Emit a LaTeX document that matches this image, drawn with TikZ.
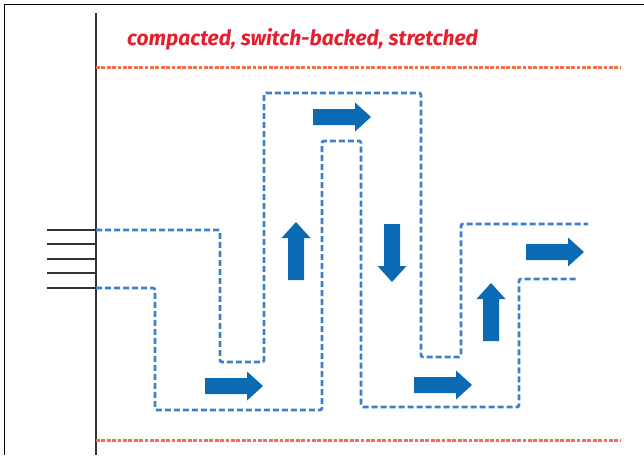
\documentclass[tikz,border=0pt]{standalone}
\usepackage{fontspec}
\newfontfamily\labelfont{Fira Sans}
\definecolor{wallgray}{HTML}{333333}
\definecolor{titlered}{HTML}{E5202E}
\definecolor{limitred}{HTML}{F2704E}
\definecolor{pathblue}{HTML}{3D7FCB}
\definecolor{arrowblue}{HTML}{0A6AB4}
\tikzset{
  wall/.style={draw=wallgray, line width=2.4pt},
  lane/.style={draw=wallgray, line width=2.2pt},
  limit/.style={draw=limitred, line width=3pt, dash pattern=on 3.8pt off 1.6pt},
  route/.style={draw=pathblue, line width=2.7pt, dash pattern=on 6pt off 3pt, rounded corners=2pt},
  flowarrow/.pic={\fill[arrowblue] (0,-8) -- (42,-8) -- (42,-14.5) -- (58,0) -- (42,14.5) -- (42,8) -- (0,8) -- cycle;}
}
\begin{document}
\begin{tikzpicture}[x=1pt, y=-1pt]
\useasboundingbox (0,0) rectangle (644,455);
% frame
\draw[black, line width=1.8pt] (4.5,455) -- (4.5,4.5) -- (644,4.5);
% title
\node[anchor=base west, inner sep=0, text=titlered, font=\labelfont\bfseries\itshape\fontsize{21}{23}\selectfont] (title) at (127,45) {compacted, switch-backed, stretched};
% wall and lanes
\coordinate (walltop) at (96,13);
\coordinate (wallbot) at (96,455);
\draw[wall] (walltop) -- (wallbot);
\foreach \y/\w [count=\i] in {230/2.2, 244/2.8, 259/2.4, 273/2.4, 288/2.3}{
  \coordinate (lane\i) at (96,\y);
  \draw[lane, line width=\w pt] (47,\y) -- (lane\i);
}
% limit lines
\coordinate (limtopL) at (96,67);
\coordinate (limtopR) at (620,67);
\coordinate (limbotL) at (96,440);
\coordinate (limbotR) at (620,440);
\draw[limit] (limtopL) -- (limtopR);
\draw[limit] (limbotL) -- (limbotR);
% outer route
\coordinate (outEnd) at (588,224);
\draw[route] (lane1) -- (220,230) -- (220,362) -- (264,362) -- (264,93) -- (421,93) -- (421,357) -- (461,357) -- (461,224) -- (outEnd);
% inner route
\coordinate (inEnd) at (578,279);
\draw[route] (lane5) -- (155,288) -- (155,410) -- (322,410) -- (322,141) -- (361,141) -- (361,407) -- (519,407) -- (519,279) -- (inEnd);
% flow arrows
\pic (a1) at (205,386) {flowarrow};
\pic[rotate=90] (a2) at (296,280) {flowarrow};
\pic (a3) at (313,117) {flowarrow};
\pic[rotate=-90] (a4) at (392,224) {flowarrow};
\pic (a5) at (414,385) {flowarrow};
\pic[rotate=90] (a6) at (491,341) {flowarrow};
\pic (a7) at (526,252) {flowarrow};
\end{tikzpicture}
\end{document}
